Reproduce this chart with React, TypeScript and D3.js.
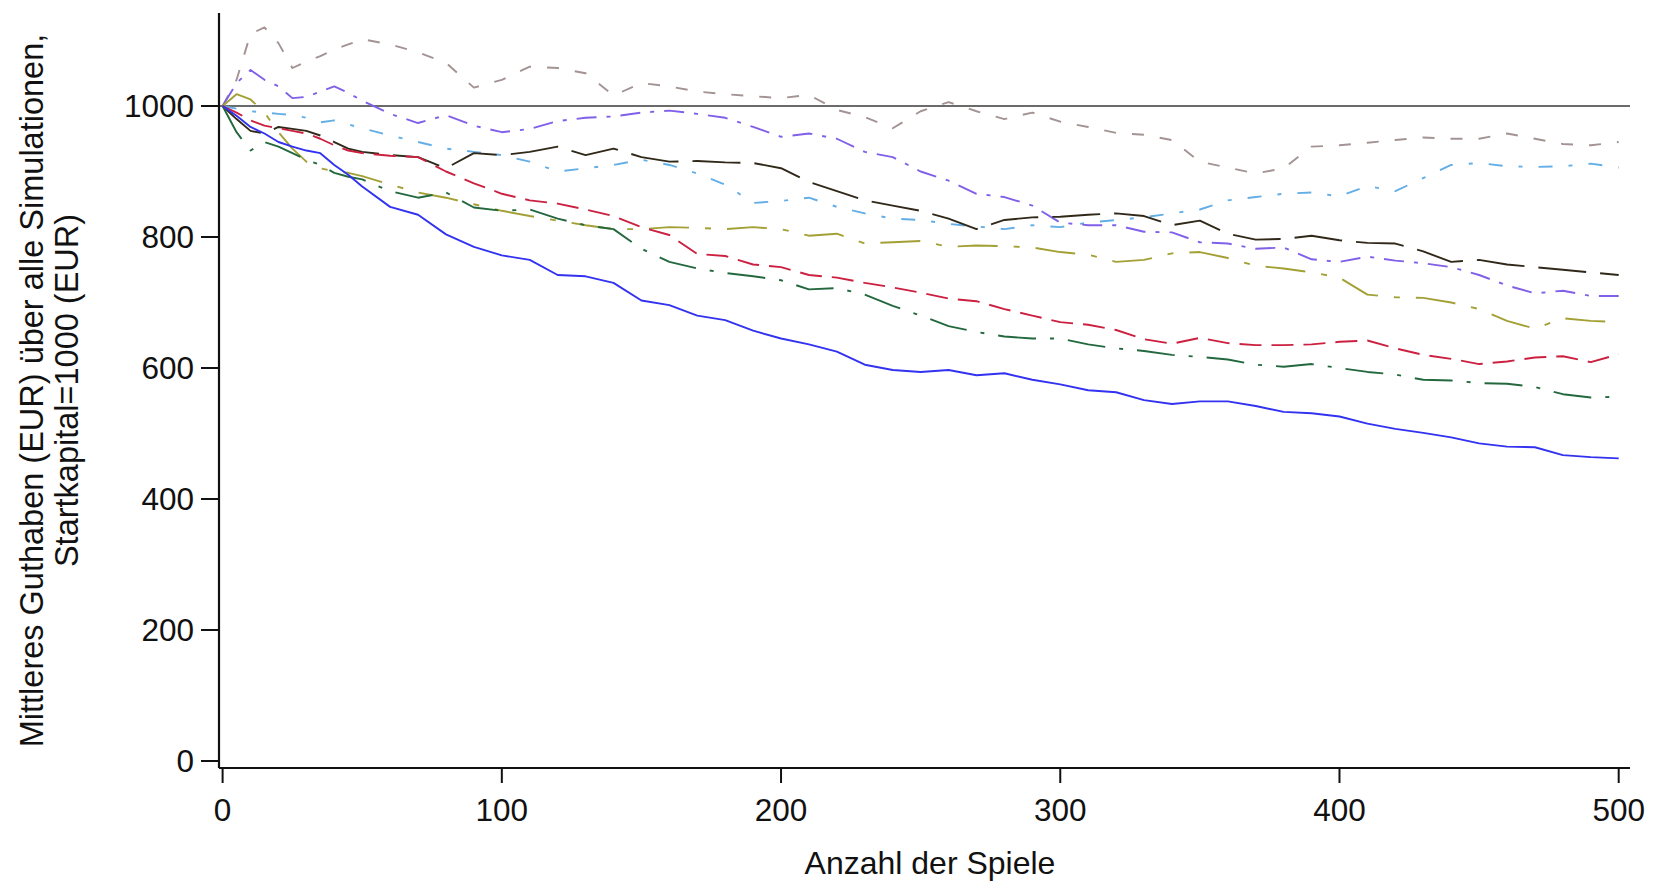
import React from "react";
import * as d3 from "d3";

// Anzahl der Spiele (x values shared by all series)
const games = [0, 5, 10, 15, 20, 25, 30, 35, 40, 45, 50, 60, 70, 80, 90, 100, 110, 120, 130, 140, 150, 160, 170, 180, 190, 200, 210, 220, 230, 240, 250, 260, 270, 280, 290, 300, 310, 320, 330, 340, 350, 360, 370, 380, 390, 400, 410, 420, 430, 440, 450, 460, 470, 480, 490, 500];

const seriesBlue = [1000, 985, 968, 958, 945, 938, 932, 928, 910, 895, 877, 846, 834, 804, 785, 772, 765, 742, 740, 730, 703, 696, 680, 673, 657, 645, 636, 625, 605, 597, 594, 597, 589, 592, 582, 575, 566, 563, 551, 545, 549, 549, 542, 533, 531, 526, 515, 507, 501, 494, 485, 480, 479, 467, 464, 462];
const seriesRed = [1000, 990, 978, 970, 966, 962, 958, 950, 940, 932, 928, 924, 922, 900, 882, 866, 856, 851, 842, 832, 815, 803, 774, 771, 758, 754, 742, 738, 730, 723, 715, 706, 702, 690, 680, 670, 666, 658, 644, 637, 646, 638, 635, 635, 636, 640, 642, 630, 620, 614, 606, 610, 616, 618, 609, 621];
const seriesGreen = [1000, 960, 932, 945, 938, 928, 918, 910, 898, 892, 888, 870, 860, 868, 845, 840, 842, 828, 818, 812, 782, 762, 752, 745, 740, 734, 720, 722, 712, 695, 680, 664, 655, 648, 645, 645, 636, 630, 626, 620, 617, 613, 605, 602, 606, 600, 594, 590, 582, 581, 577, 576, 571, 560, 555, 556];
const seriesOlive = [1000, 1018, 1010, 990, 960, 935, 915, 905, 900, 898, 893, 880, 868, 860, 850, 840, 832, 825, 818, 812, 812, 815, 814, 812, 815, 812, 802, 805, 790, 792, 794, 785, 787, 786, 784, 777, 773, 762, 765, 775, 777, 768, 756, 752, 746, 738, 712, 708, 707, 700, 690, 672, 660, 676, 672, 670];
const seriesBlack = [1000, 980, 962, 958, 968, 965, 962, 955, 945, 935, 930, 925, 922, 905, 928, 925, 930, 938, 925, 935, 922, 915, 916, 914, 913, 905, 884, 870, 856, 848, 840, 828, 812, 826, 830, 831, 834, 836, 832, 818, 825, 805, 796, 797, 802, 795, 791, 790, 778, 762, 765, 758, 754, 750, 746, 742];
const seriesPurple = [1000, 1035, 1055, 1040, 1030, 1012, 1014, 1022, 1030, 1020, 1008, 988, 974, 986, 970, 960, 965, 977, 982, 984, 990, 993, 988, 982, 968, 953, 958, 950, 930, 922, 900, 886, 866, 861, 848, 822, 818, 818, 808, 807, 792, 790, 782, 784, 766, 762, 770, 764, 760, 754, 742, 726, 714, 718, 710, 710];
const seriesLightBlue = [1000, 996, 992, 990, 988, 986, 982, 975, 978, 972, 966, 955, 945, 935, 930, 925, 915, 900, 905, 910, 918, 910, 897, 880, 852, 855, 860, 846, 836, 828, 826, 820, 816, 812, 818, 815, 822, 826, 830, 836, 842, 856, 861, 866, 868, 862, 878, 870, 890, 910, 913, 908, 907, 908, 912, 906];
const seriesGray = [1000, 1040, 1110, 1120, 1096, 1058, 1068, 1076, 1086, 1094, 1102, 1094, 1082, 1066, 1028, 1040, 1060, 1058, 1050, 1016, 1035, 1030, 1022, 1018, 1015, 1012, 1017, 994, 983, 966, 992, 1006, 992, 980, 990, 976, 968, 959, 956, 948, 915, 906, 897, 905, 938, 940, 944, 948, 952, 950, 950, 958, 950, 942, 940, 945];

const yTicks = [0, 200, 400, 600, 800, 1000];
const xTicks = [0, 100, 200, 300, 400, 500];
const referenceValue = 1000;

const series = [
  { name: "gray", values: seriesGray, color: "#a39393", dash: "12,16" },
  { name: "lightblue", values: seriesLightBlue, color: "#64aee6", dash: "14,16,4,16" },
  { name: "purple", values: seriesPurple, color: "#8060e8", dash: "20,10,4,10" },
  { name: "black", values: seriesBlack, color: "#302818", dash: "48,14" },
  { name: "olive", values: seriesOlive, color: "#a3a035", dash: "40,16,6,16" },
  { name: "green", values: seriesGreen, color: "#23683e", dash: "38,14,4,14" },
  { name: "red", values: seriesRed, color: "#cc2040", dash: "22,10" },
  { name: "blue", values: seriesBlue, color: "#3232f0", dash: "" },
];

export default function App() {
  const W = 1662;
  const H = 882;
  const x = d3.scaleLinear().domain([0, 500]).range([222.6, 1618.7]);
  const y = d3.scaleLinear().domain([0, 1000]).range([761, 106]);
  const axisLeft = 219;
  const axisBottom = 768;
  const axisRight = 1630;
  const axisTop = y(1142);
  const font = "'Liberation Sans', Arial, Helvetica, sans-serif";

  const line = d3
    .line<number>()
    .x((_, i) => x(games[i]))
    .y((d) => y(d))
    .curve(d3.curveLinear);

  return (
    <svg
      width={W}
      height={H}
      style={{ position: "absolute", left: 0, top: 0, background: "#fff" }}
      fontFamily={font}
    >
      <rect x={0} y={0} width={W} height={H} fill="#fff" />
      <line
        x1={axisLeft}
        x2={axisRight}
        y1={y(referenceValue)}
        y2={y(referenceValue)}
        stroke="#3a3a3a"
        strokeWidth={1.6}
      />
      {series.map((s) => (
        <path
          key={s.name}
          d={line(s.values) || ""}
          fill="none"
          stroke={s.color}
          strokeWidth={1.9}
          strokeDasharray={s.dash || undefined}
          strokeLinejoin="round"
        />
      ))}
      <line x1={axisLeft} x2={axisLeft} y1={axisTop} y2={axisBottom} stroke="#111" strokeWidth={2.2} />
      <line x1={axisLeft} x2={axisRight} y1={axisBottom} y2={axisBottom} stroke="#111" strokeWidth={2.2} />
      {yTicks.map((t) => (
        <g key={"y" + t}>
          <line x1={axisLeft - 18} x2={axisLeft} y1={y(t)} y2={y(t)} stroke="#111" strokeWidth={2} />
          <text
            x={axisLeft - 25}
            y={y(t)}
            textAnchor="end"
            dominantBaseline="central"
            fontSize={31.5}
            fill="#111"
          >
            {t}
          </text>
        </g>
      ))}
      {xTicks.map((t) => (
        <g key={"x" + t}>
          <line x1={x(t)} x2={x(t)} y1={axisBottom} y2={axisBottom + 15} stroke="#111" strokeWidth={2} />
          <text x={x(t)} y={821} textAnchor="middle" fontSize={31.5} fill="#111">
            {t}
          </text>
        </g>
      ))}
      <text x={930} y={874} textAnchor="middle" fontSize={32} fill="#111">
        Anzahl der Spiele
      </text>
      <g transform={`translate(32, ${(axisTop + axisBottom) / 2}) rotate(-90)`}>
        <text x={0} y={0} textAnchor="middle" dominantBaseline="central" fontSize={32.5} fill="#111">
          Mittleres Guthaben (EUR) über alle Simulationen,
        </text>
      </g>
      <g transform={`translate(67, ${(axisTop + axisBottom) / 2}) rotate(-90)`}>
        <text x={0} y={0} textAnchor="middle" dominantBaseline="central" fontSize={32.5} fill="#111">
          Startkapital=1000 (EUR)
        </text>
      </g>
    </svg>
  );
}
